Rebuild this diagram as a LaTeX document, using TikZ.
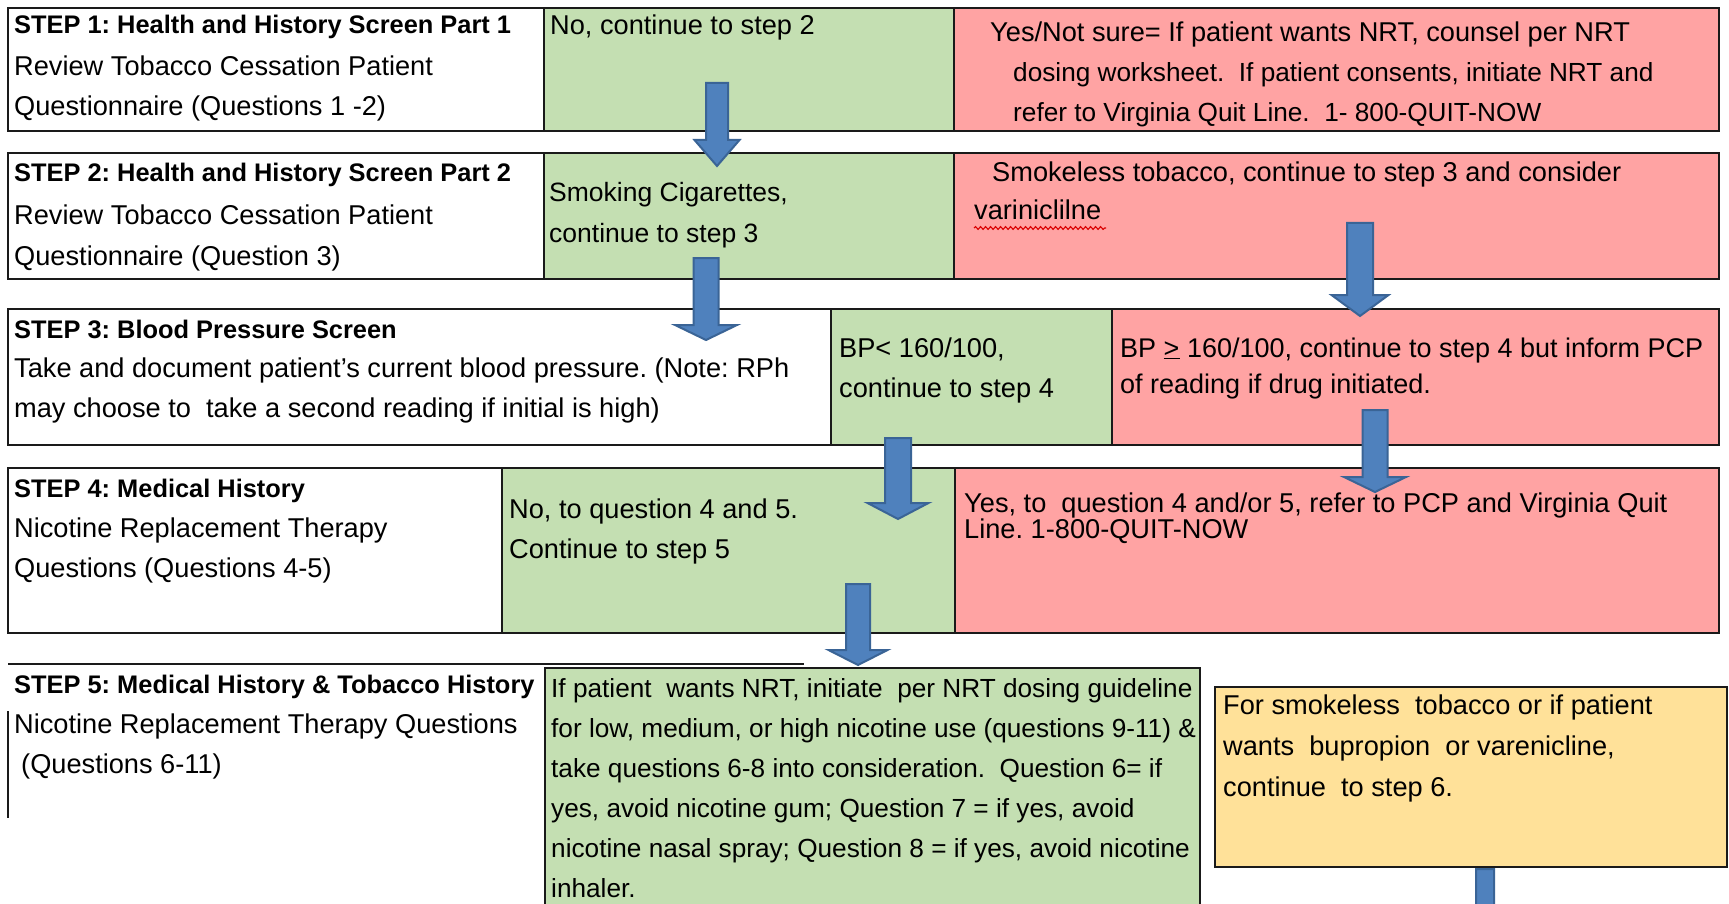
\documentclass[tikz,border=0pt]{standalone}
\usepackage{fontspec}
\setmainfont{Liberation Sans}
\usetikzlibrary{decorations.pathmorphing}
\definecolor{cgreen}{HTML}{C4DFB2}
\definecolor{cred}{HTML}{FFA3A3}
\definecolor{cyellow}{HTML}{FFE199}
\definecolor{cblue}{HTML}{4F81BD}
\definecolor{cbluedark}{HTML}{3A6496}
\definecolor{cline}{HTML}{1A1A1A}
\frenchspacing
\newcommand\txtlines[1]{\vtop{\halign{##\hfil\cr#1\crcr}}}
\newcommand\barrow[6]{%
  \draw[blockarrow] (#1-#5,#2) -- (#1+#5,#2) -- (#1+#5,#3) -- (#1+#6,#3) -- (#1,#4) -- (#1-#6,#3) -- (#1-#5,#3) -- cycle;}
\begin{document}
\begin{tikzpicture}[x=1pt,y=-1pt,
  cellbox/.style={draw=cline,line width=1.6pt,inner sep=0pt,outer sep=0pt,anchor=north west},
  body/.style={anchor=base west,inner sep=0pt,font=\fontsize{27.2}{40}\selectfont},
  title/.style={anchor=base west,inner sep=0pt,font=\fontsize{25.4}{40}\selectfont\bfseries},
  blockarrow/.style={fill=cblue,draw=cbluedark,line width=2pt,line join=miter}]
\useasboundingbox (0,0) rectangle (1729,904);
\clip (0,0) rectangle (1729,904);
\fill[white] (0,0) rectangle (1729,904);

% Row 1
\node[cellbox,fill=white,minimum width=536pt,minimum height=123pt] (r1w) at (8,8) {};
\node[cellbox,fill=cgreen,minimum width=410pt,minimum height=123pt] (r1g) at (544,8) {};
\node[cellbox,fill=cred,minimum width=765pt,minimum height=123pt] (r1r) at (954,8) {};
% Row 2
\node[cellbox,fill=white,minimum width=536pt,minimum height=126pt] (r2w) at (8,153) {};
\node[cellbox,fill=cgreen,minimum width=410pt,minimum height=126pt] (r2g) at (544,153) {};
\node[cellbox,fill=cred,minimum width=765pt,minimum height=126pt] (r2r) at (954,153) {};
% Row 3
\node[cellbox,fill=white,minimum width=823pt,minimum height=136pt] (r3w) at (8,309) {};
\node[cellbox,fill=cgreen,minimum width=281pt,minimum height=136pt] (r3g) at (831,309) {};
\node[cellbox,fill=cred,minimum width=607pt,minimum height=136pt] (r3r) at (1112,309) {};
% Row 4
\node[cellbox,fill=white,minimum width=494pt,minimum height=165pt] (r4w) at (8,468) {};
\node[cellbox,fill=cgreen,minimum width=453pt,minimum height=165pt] (r4g) at (502,468) {};
\node[cellbox,fill=cred,minimum width=764pt,minimum height=165pt] (r4r) at (955,468) {};
% Row 5
\coordinate (l5a) at (8,664);
\coordinate (l5b) at (804,664);
\coordinate (b5a) at (8,711);
\coordinate (b5b) at (8,818);
\draw[cline,line width=1.6pt] (l5a) -- (l5b);
\draw[cline,line width=1.2pt] (b5a) -- (b5b);
\node[cellbox,fill=cgreen,minimum width=655pt,minimum height=260pt] (r5g) at (545,668) {};
\node[cellbox,fill=cyellow,minimum width=512pt,minimum height=180pt] (r5y) at (1215,687) {};

% Texts row 1
\node[title] (t1) at (14,34) {STEP 1: Health and History Screen Part 1};
\node[body] (t1b) at (14,76) {\txtlines{Review Tobacco Cessation Patient\cr Questionnaire (Questions 1 -2)}};
\node[body] (g1) at (550,35) {No, continue to step 2};
\node[body] (p1a) at (990,42) {Yes/Not sure= If patient wants NRT, counsel per NRT};
\node[body,font=\fontsize{26.2}{40}\selectfont] (p1b) at (1013,82) {\txtlines{dosing worksheet.~ If patient consents, initiate NRT and\cr refer to Virginia Quit Line.~ 1- 800-QUIT-NOW}};
% Texts row 2
\node[title] (t2) at (14,182) {STEP 2: Health and History Screen Part 2};
\node[body] (t2b) at (14,225) {\txtlines{Review Tobacco Cessation Patient\cr Questionnaire (Question 3)}};
\node[body,font=\fontsize{26.5}{40}\selectfont] (g2) at (549,202) {\txtlines{Smoking Cigarettes,\cr continue to step 3}};
\node[body] (p2a) at (992,182) {Smokeless tobacco, continue to step 3 and consider};
\node[body] (p2b) at (974,220) {variniclilne};
\coordinate (sq1) at (974,228);
\coordinate (sq2) at (1106,228);
\draw[red!85!black,line width=1.1pt,decorate,decoration={snake,amplitude=1.4pt,segment length=5pt}] (sq1) -- (sq2);
% Texts row 3
\node[title] (t3) at (14,338) {STEP 3: Blood Pressure Screen};
\node[body] (t3b) at (14,377) {\txtlines{Take and document patient's current blood pressure. (Note: RPh\cr may choose to~ take a second reading if initial is high)}};
\node[body] (g3) at (839,357) {\txtlines{BP< 160/100,\cr continue to step 4}};
\node[body,font=\fontsize{27}{36}\selectfont] (p3) at (1120,357) {\txtlines{BP \underline{>} 160/100, continue to step 4 but inform PCP\cr of reading if drug initiated.}};
% Texts row 4
\node[title] (t4) at (14,497) {STEP 4: Medical History};
\node[body] (t4b) at (14,537) {\txtlines{Nicotine Replacement Therapy\cr Questions (Questions 4-5)}};
\node[body] (g4) at (509,518) {\txtlines{No, to question 4 and 5.\cr Continue to step 5}};
\node[body,font=\fontsize{27.2}{26}\selectfont] (p4) at (964,512) {\txtlines{Yes, to~ question 4 and/or 5, refer to PCP and Virginia Quit\cr Line. 1-800-QUIT-NOW}};
% Texts row 5
\node[title] (t5) at (14,693) {STEP 5: Medical History \& Tobacco History};
\node[body] (t5b) at (14,733) {\txtlines{Nicotine Replacement Therapy Questions\cr \kern7pt(Questions 6-11)}};
\node[body,font=\fontsize{26.2}{40}\selectfont] (g5) at (551,697) {\txtlines{If patient~ wants NRT, initiate~ per NRT dosing guideline\cr
for low, medium, or high nicotine use (questions 9-11) \&\cr
take questions 6-8 into consideration.~ Question 6= if\cr
yes, avoid nicotine gum; Question 7 = if yes, avoid\cr
nicotine nasal spray; Question 8 = if yes, avoid nicotine\cr
inhaler.}};
\node[body,font=\fontsize{27.2}{41}\selectfont] (y5) at (1223,714) {\txtlines{For smokeless~ tobacco or if patient\cr wants~ bupropion~ or varenicline,\cr continue~ to step 6.}};

% Block arrows
\barrow{717}{83}{140}{166}{11}{22.5}
\barrow{706}{258}{325}{340}{12.5}{31}
\barrow{1360}{223}{295}{316}{13}{28.5}
\barrow{898}{438}{503}{519}{13}{30.5}
\barrow{1375}{410}{477}{492}{12.5}{31}
\barrow{858}{584}{650}{665}{12}{29.5}
\barrow{1485}{869}{960}{990}{9}{28}
\end{tikzpicture}
\end{document}
